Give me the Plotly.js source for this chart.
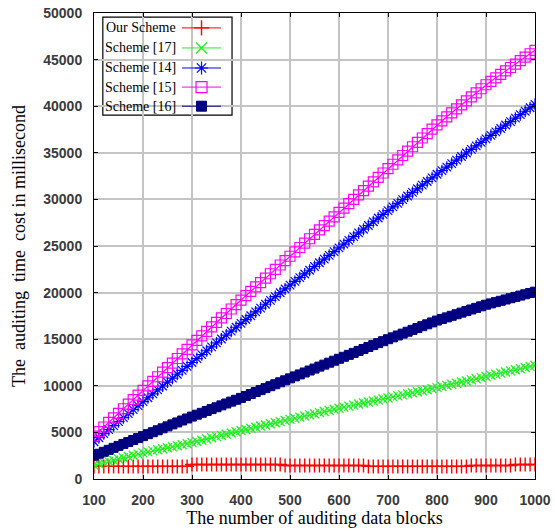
<!DOCTYPE html>
<html>
<head>
<meta charset="utf-8">
<script src="https://cdn.plot.ly/plotly-3.0.1.min.js"></script>
<style>
html,body{margin:0;padding:0;background:#fff;}
#chart{width:555px;height:531px;}
</style>
</head>
<body>
<div id="chart"></div>
<script>
// ---- data ----
var blocks = [100,110,120,130,140,150,160,170,180,190,200,210,220,230,240,250,260,270,280,290,300,310,320,330,340,350,360,370,380,390,400,410,420,430,440,450,460,470,480,490,500,510,520,530,540,550,560,570,580,590,600,610,620,630,640,650,660,670,680,690,700,710,720,730,740,750,760,770,780,790,800,810,820,830,840,850,860,870,880,890,900,910,920,930,940,950,960,970,980,990,1000];

var seriesNames = ['Our Scheme','Scheme [17]','Scheme [14]','Scheme [15]','Scheme [16]'];

var ourScheme = [1350,1350,1350,1350,1350,1350,1350,1350,1350,1350,1350,1350,1350,1350,1350,1350,1350,1350,1350,1350,
1550,1550,1550,1550,1550,1550,1550,1550,1550,1550,1550,1550,1550,1550,1550,1550,1550,1550,1550,
1450,1450,1450,1450,1450,1450,1450,1450,1450,1450,1450,1450,1450,1450,1450,1450,1450,
1350,1350,1350,1350,1350,1350,1350,1350,1350,1350,1350,1350,1350,1350,1350,1350,1350,1350,1350,1350,1350,
1450,1450,1450,1450,1450,1450,1450,1450,1450,
1550,1550,1550,1550,1550];

var scheme17 = [1500,1630,1760,1890,2020,2150,2280,2410,2540,2670,2800,
2910,3020,3130,3240,3350,3460,3570,3680,3790,3900,
4030,4160,4290,4420,4550,4680,4810,4940,5070,5200,
5320,5440,5560,5680,5800,5920,6040,6160,6280,6400,
6520,6640,6760,6880,7000,7120,7240,7360,7480,7600,
7710,7820,7930,8040,8150,8260,8370,8480,8590,8700,
8810,8920,9030,9140,9250,9360,9470,9580,9690,9800,
9920,10040,10160,10280,10400,10520,10640,10760,10880,11000,
11120,11240,11360,11480,11600,11720,11840,11960,12080,12200];

var scheme14 = [4000,4430,4860,5290,5720,6150,6580,7010,7440,7870,8300,
8720,9140,9560,9980,10400,10820,11240,11660,12080,12500,
12920,13340,13760,14180,14600,15020,15440,15860,16280,16700,
17110,17520,17930,18340,18750,19160,19570,19980,20390,20800,
21200,21600,22000,22400,22800,23200,23600,24000,24400,24800,
25200,25600,26000,26400,26800,27200,27600,28000,28400,28800,
29190,29580,29970,30360,30750,31140,31530,31920,32310,32700,
33080,33460,33840,34220,34600,34980,35360,35740,36120,36500,
36870,37240,37610,37980,38350,38720,39090,39460,39830,40200];

var scheme15 = [4600,5090,5580,6070,6560,7050,7540,8030,8520,9010,9500,
9990,10480,10970,11460,11950,12440,12930,13420,13910,14400,
14880,15360,15840,16320,16800,17280,17760,18240,18720,19200,
19670,20140,20610,21080,21550,22020,22490,22960,23430,23900,
24370,24840,25310,25780,26250,26720,27190,27660,28130,28600,
29070,29540,30010,30480,30950,31420,31890,32360,32830,33300,
33770,34240,34710,35180,35650,36120,36590,37060,37530,38000,
38430,38860,39290,39720,40150,40580,41010,41440,41870,42300,
42670,43040,43410,43780,44150,44520,44890,45260,45630,46000];

var scheme16 = [2500,2710,2920,3130,3340,3550,3760,3970,4180,4390,4600,
4810,5020,5230,5440,5650,5860,6070,6280,6490,6700,
6900,7100,7300,7500,7700,7900,8100,8300,8500,8700,
8910,9120,9330,9540,9750,9960,10170,10380,10590,10800,
11010,11220,11430,11640,11850,12060,12270,12480,12690,12900,
13110,13320,13530,13740,13950,14160,14370,14580,14790,15000,
15200,15400,15600,15800,16000,16200,16400,16600,16800,17000,
17170,17340,17510,17680,17850,18020,18190,18360,18530,18700,
18840,18980,19120,19260,19400,19540,19680,19820,19960,20100];

var xTicks = [100,200,300,400,500,600,700,800,900,1000];
var yTicks = [0,5000,10000,15000,20000,25000,30000,35000,40000,45000,50000];

// ---- styles ----
var styles = [
  {color:'#ff0000', symbol:'cross-thin-open', size:10, lw:1.4, ls:11},
  {color:'#22ee22', symbol:'x-thin-open', size:9, lw:1.3, ls:11},
  {color:'#0000ff', symbol:'asterisk-open', size:10, lw:1.2, ls:11},
  {color:'#ff00ff', symbol:'square-open', size:10, lw:1.2, ls:11},
  {color:'#000080', symbol:'square', size:9, lw:1, ls:10}
];
var allSeries = [ourScheme, scheme17, scheme14, scheme15, scheme16];

var traces = [];
allSeries.forEach(function(vals, i){
  var s = styles[i];
  traces.push({
    x: blocks, y: vals, type:'scatter', mode:'lines+markers', name: seriesNames[i],
    showlegend:false, hoverinfo:'skip',
    line:{color:s.color, width:1.2},
    marker:{symbol:s.symbol, size:s.size, color:s.color, line:{color:s.color, width:s.lw}},
    xaxis:'x', yaxis:'y'
  });
});

// ---- custom gnuplot-style legend (text left, sample right) ----
var legRowY = [0.968, 0.925, 0.882, 0.841, 0.800];
var annotations = [];
seriesNames.forEach(function(nm, i){
  var s = styles[i];
  traces.push({
    x:[0.1995, 0.288], y:[legRowY[i], legRowY[i]], type:'scatter', mode:'lines',
    xaxis:'x2', yaxis:'y2', showlegend:false, hoverinfo:'skip',
    line:{color:s.color, width:1}
  });
  traces.push({
    x:[0.2438], y:[legRowY[i]], type:'scatter', mode:'markers',
    xaxis:'x2', yaxis:'y2', showlegend:false, hoverinfo:'skip',
    marker:{symbol:s.symbol, size:s.ls, color:s.color, line:{color:s.color, width:s.lw}}
  });
  annotations.push({
    xref:'paper', yref:'paper', x:0.19, y:legRowY[i], xanchor:'right', yanchor:'middle',
    text: nm, showarrow:false,
    font:{family:'Liberation Serif, Times New Roman, serif', size:14, color:'#000'}
  });
});

var tickFont = {family:'Liberation Sans, Arial, sans-serif', size:14, color:'#3a3a3a', weight:'bold'};

var layout = {
  width:555, height:531,
  margin:{l:94, r:20, t:13, b:52},
  paper_bgcolor:'#fff', plot_bgcolor:'#fff',
  showlegend:false,
  xaxis:{
    range:[100,1000], tickvals:xTicks, ticktext:xTicks.map(String),
    showgrid:true, gridcolor:'#c4c4c4', gridwidth:2,
    showline:true, linecolor:'#000', linewidth:1, mirror:'ticks',
    ticks:'inside', ticklen:4, tickcolor:'#000',
    zeroline:false, tickfont:tickFont, ticklabelstandoff:8,
    title:{text:'The number of auditing data blocks', standoff:3,
      font:{family:'Liberation Serif, Times New Roman, serif', size:18, color:'#000'}}
  },
  yaxis:{
    range:[0,50000], tickvals:yTicks, ticktext:yTicks.map(String),
    showgrid:true, gridcolor:'#c4c4c4', gridwidth:2,
    showline:true, linecolor:'#000', linewidth:1, mirror:'ticks',
    ticks:'inside', ticklen:4, tickcolor:'#000',
    zeroline:false, tickfont:tickFont, ticklabelstandoff:8,
    title:{text:'The\u00a0 auditing\u00a0 time\u00a0 cost in millisecond', standoff:12,
      font:{family:'Liberation Serif, Times New Roman, serif', size:18, color:'#000'}}
  },
  xaxis2:{overlaying:'x', range:[0,1], visible:false, fixedrange:true},
  yaxis2:{overlaying:'y', range:[0,1], visible:false, fixedrange:true},
  shapes:[{
    type:'rect', xref:'paper', yref:'paper', x0:0.020, x1:0.313, y0:0.781, y1:0.991,
    line:{color:'#000', width:1.2}, fillcolor:'#fff', layer:'below'
  }],
  annotations: annotations
};

Plotly.newPlot('chart', traces, layout, {staticPlot:true, displayModeBar:false});
</script>
</body>
</html>
